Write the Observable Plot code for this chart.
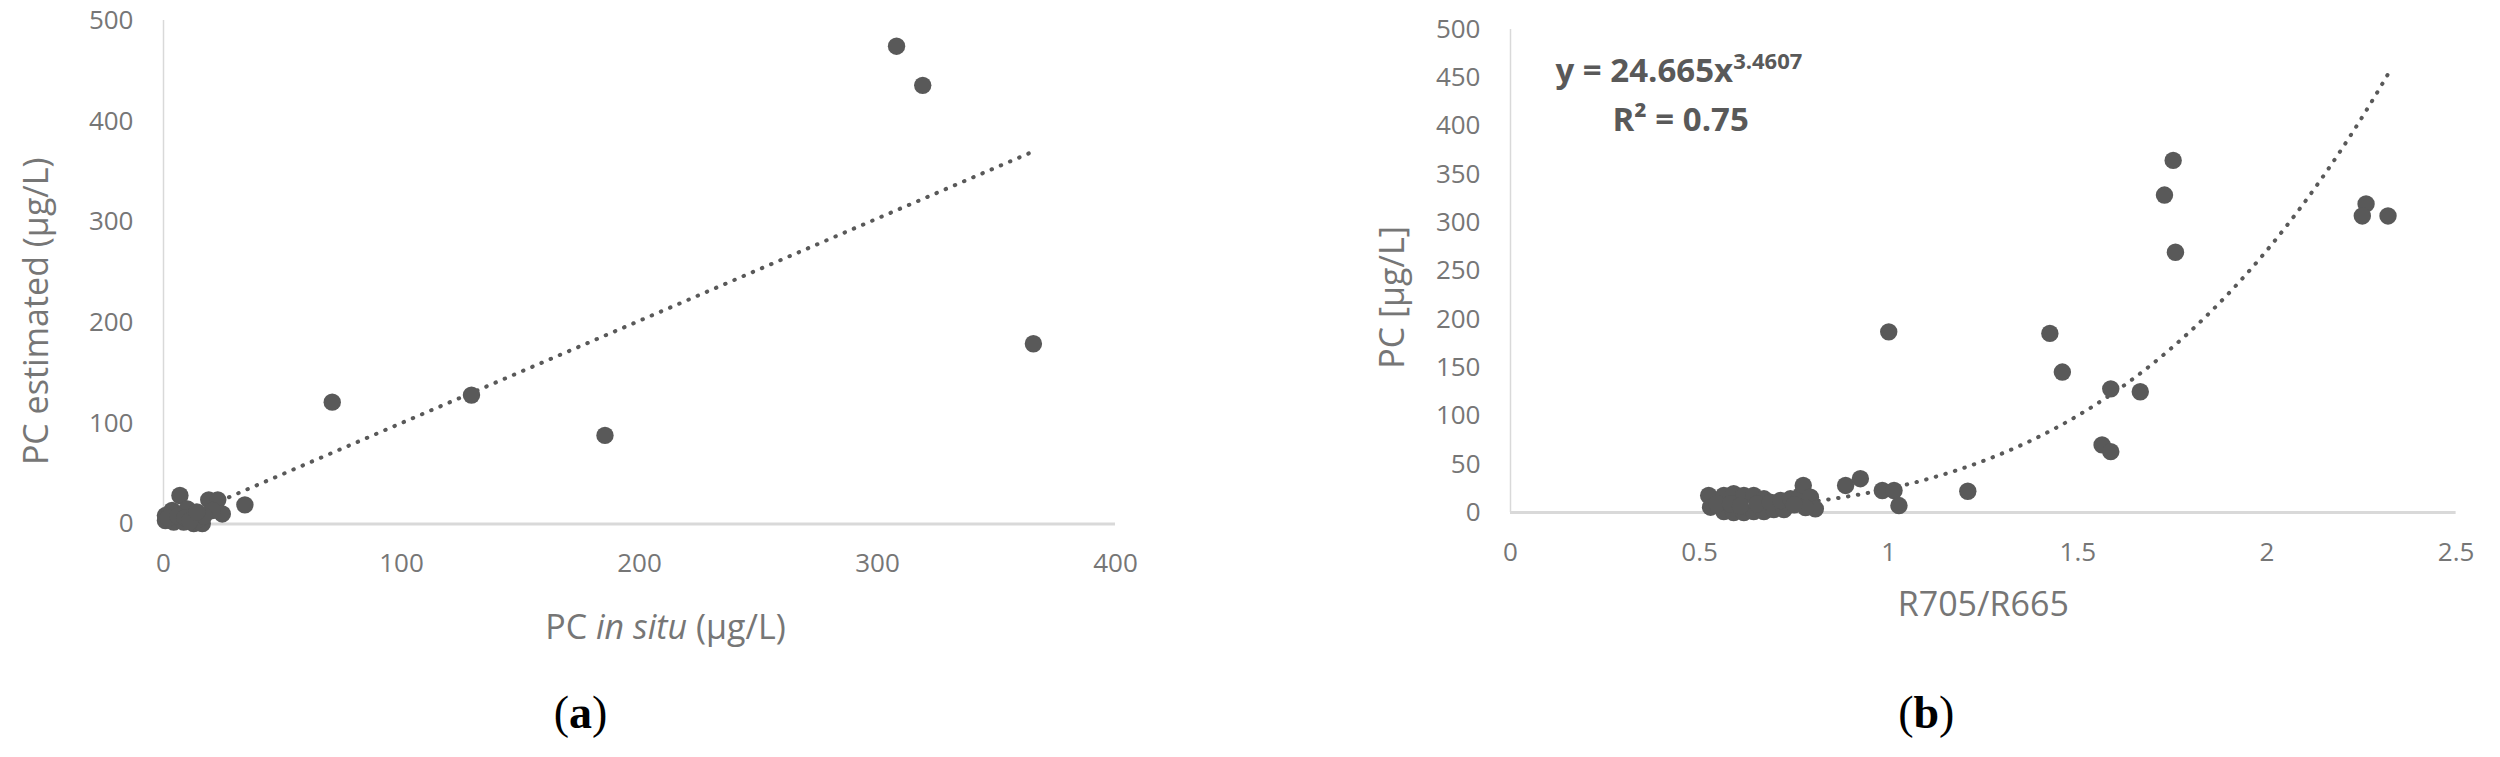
<!DOCTYPE html>
<html>
<head>
<meta charset="utf-8">
<script src="https://cdn.jsdelivr.net/npm/d3@7"></script>
<script src="https://cdn.jsdelivr.net/npm/@observablehq/plot@0.6"></script>
<style>
  html, body { margin: 0; padding: 0; background: #ffffff; }
  #chart { position: relative; width: 2500px; height: 757px; background: #ffffff; overflow: hidden; }
  #chart svg { position: absolute; top: 0; }
</style>
</head>
<body>
<div id="chart"></div>
<script>
// ---------- Panel (a): PC in situ vs PC estimated ----------
const aInSitu = [308, 319, 365.5, 70.9, 129.4, 185.5, 34.2, 6.9, 19, 22.8, 24.7, 20.5,
  0.8, 4.3, 8.5, 12.7, 16.3, 3.6, 10, 13.5, 0.8, 2, 6, 9, 15, 17, 11, 14];
const aEstimated = [474.5, 435.6, 179, 121, 128, 88, 19, 28.3, 24, 24, 10, 13.4,
  3.5, 2, 2, 0.5, 0.5, 13.4, 15, 10, 8.4, 6, 8, 6, 5, 8, 3, 12];
// linear trendline endpoints
const aTrendX = [0.5, 365.5];
const aTrendY = [-0.8, 370];
const aXTicks = [0, 100, 200, 300, 400];
const aYTicks = [0, 100, 200, 300, 400, 500];

// ---------- Panel (b): R705/R665 vs PC ----------
const bRatio = [1.752, 1.729, 1.758, 2.262, 2.252, 2.320, 1.0, 1.426, 1.459, 1.587, 1.665,
  1.564, 1.587, 1.209, 0.886, 0.925, 0.983, 1.014, 1.027,
  0.524, 0.529, 0.564, 0.590, 0.617, 0.643, 0.670, 0.564, 0.590, 0.617, 0.643, 0.670, 0.696, 0.723,
  0.546, 0.582, 0.608, 0.652, 0.687, 0.714, 0.740, 0.767, 0.774, 0.793, 0.806, 0.780, 0.750];
const bPC = [364.5, 328.6, 269.4, 319.4, 307, 307, 187, 185.4, 145.4, 128, 125,
  70, 63, 22, 28, 35, 22.8, 22.8, 7.2,
  17.6, 5.5, 17.6, 19.4, 17.6, 17.6, 14.2, 1, 0, 0, 1, 1, 3, 3,
  9, 9, 7, 9, 10.7, 12.4, 14.2, 17.6, 28, 15.8, 3.8, 5, 8];
// power trendline as printed on the chart: y = 24.665 x^3.4607
const bCoef = 24.665;
const bExp = 3.4607;
const bTrendRange = [0.524, 2.32];
const bXTicks = [0, 0.5, 1, 1.5, 2, 2.5];
const bYTicks = [0, 50, 100, 150, 200, 250, 300, 350, 400, 450, 500];

const dataA = aInSitu.map((x, i) => ({x, y: aEstimated[i]}));
const trendA = aTrendX.map((x, i) => ({x, y: aTrendY[i]}));
const dataB = bRatio.map((x, i) => ({x, y: bPC[i]}));
const trendB = d3.range(bTrendRange[0], bTrendRange[1] + 1e-9, 0.01).concat([bTrendRange[1]])
  .map(x => ({x, y: bCoef * Math.pow(x, bExp)}));

const dotColor = "#595959";
const textColor = "#767676";
const axisColor = "#d9d9d9";
const font = "'Open Sans', 'DejaVu Sans', sans-serif";

function panel({width, marginLeft, marginRight, marginTop, marginBottom, xDomain, yDomain, xTicks, yTicks, xFormat, data, trend, extra}) {
  return Plot.plot({
    width, height: 757,
    marginLeft, marginRight, marginTop, marginBottom,
    x: {domain: xDomain},
    y: {domain: yDomain},
    style: {fontFamily: font, fontSize: "26px", color: textColor, background: "transparent", overflow: "visible"},
    marks: [
      Plot.ruleX([xDomain[0]], {stroke: axisColor, strokeWidth: 1.5}),
      Plot.ruleY([yDomain[0]], {stroke: axisColor, strokeWidth: 3}),
      Plot.axisX({ticks: xTicks, tickSize: 0, tickPadding: 30, label: null, tickFormat: xFormat, fontSize: 26}),
      Plot.axisY({ticks: yTicks, tickSize: 0, tickPadding: 30, label: null, tickFormat: d => String(d), fontSize: 26}),
      Plot.line(trend, {x: "x", y: "y", stroke: dotColor, strokeWidth: 4, strokeDasharray: "0.5,9.5", strokeLinecap: "round"}),
      Plot.dot(data, {x: "x", y: "y", r: 8.7, fill: dotColor}),
      ...extra
    ]
  });
}

const svgA = panel({
  width: 1250, marginLeft: 163, marginRight: 135, marginTop: 20, marginBottom: 233.5,
  xDomain: [0, 400], yDomain: [0, 500], xTicks: aXTicks, yTicks: aYTicks,
  xFormat: d => String(d), data: dataA, trend: trendA,
  extra: [
    Plot.text(["PC estimated (μg/L)"], {frameAnchor: "left", rotate: -90, dx: -126, dy: 39, fontSize: 34, fill: textColor, textAnchor: "middle", lineAnchor: "middle"}),
    Plot.text(["PC in situ (μg/L)"], {frameAnchor: "bottom", dx: 26, dy: 104, fontSize: 34, fill: textColor, textAnchor: "middle", lineAnchor: "middle"}),
    Plot.text(["(a)"], {frameAnchor: "bottom", dx: -59, dy: 203.5, fontSize: 46, fill: "#000", fontFamily: "'Liberation Serif', serif", textAnchor: "middle", lineAnchor: "bottom"})
  ]
});

const svgB = panel({
  width: 1250, marginLeft: 260, marginRight: 44.4, marginTop: 29, marginBottom: 245,
  xDomain: [0, 2.5], yDomain: [0, 500], xTicks: bXTicks, yTicks: bYTicks,
  xFormat: d => String(d), data: dataB, trend: trendB,
  extra: [
    Plot.text(["PC [μg/L]"], {frameAnchor: "left", rotate: -90, dx: -117, dy: 26.5, fontSize: 34, fill: textColor, textAnchor: "middle", lineAnchor: "middle"}),
    Plot.text(["R705/R665"], {frameAnchor: "bottom", dx: 0, dy: 93, fontSize: 34, fill: textColor, textAnchor: "middle", lineAnchor: "middle"}),
    Plot.text(["(b)"], {frameAnchor: "bottom", dx: -57, dy: 215, fontSize: 46, fill: "#000", fontFamily: "'Liberation Serif', serif", textAnchor: "middle", lineAnchor: "bottom"}),
    Plot.text(["y = 24.665x"], {frameAnchor: "top-left", dx: 45, dy: 52.7, fontSize: 33, fontWeight: "bold", fill: "#595959", textAnchor: "start", lineAnchor: "bottom"}),
    Plot.text(["R² = 0.75"], {frameAnchor: "top-left", dx: 102, dy: 101, fontSize: 33, fontWeight: "bold", fill: "#595959", textAnchor: "start", lineAnchor: "bottom"})
  ]
});

svgA.style.left = "0px";
svgB.style.left = "1250px";
const chart = document.getElementById("chart");
chart.appendChild(svgA);
chart.appendChild(svgB);

// rich text touches (italics, bold letters, superscript)
function findText(svg, content) {
  return d3.select(svg).selectAll("text").filter(function () { return this.textContent === content; });
}
findText(svgA, "PC in situ (μg/L)").each(function () {
  const t = d3.select(this); t.text(null);
  t.append("tspan").text("PC ");
  t.append("tspan").attr("font-style", "italic").text("in situ");
  t.append("tspan").text(" (μg/L)");
});
[[svgA, "a"], [svgB, "b"]].forEach(([svg, l]) => {
  findText(svg, `(${l})`).each(function () {
    const t = d3.select(this); t.text(null);
    t.append("tspan").text("(");
    t.append("tspan").attr("font-weight", "bold").text(l);
    t.append("tspan").text(")");
  });
});
findText(svgB, "y = 24.665x").each(function () {
  d3.select(this).append("tspan").attr("font-size", "22px").attr("dy", "-13.4").text(String(bExp));
});
</script>
</body>
</html>
